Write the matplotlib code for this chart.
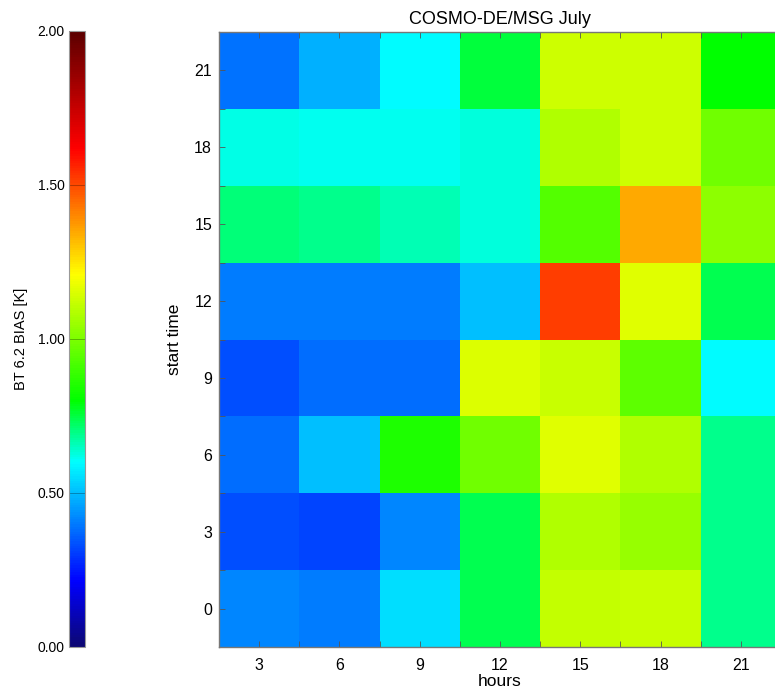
import numpy as np
import matplotlib
matplotlib.use("Agg")
import matplotlib.pyplot as plt
from matplotlib.colors import LinearSegmentedColormap, Normalize
from matplotlib.cm import ScalarMappable

# ---------------------------------------------------------------
# COSMO-DE/MSG July — BT 6.2 bias by start time and forecast hour
# ---------------------------------------------------------------
plt.rcParams["font.family"] = ["Liberation Sans", "DejaVu Sans"]

hours = [3, 6, 9, 12, 15, 18, 21]
start_times = [0, 3, 6, 9, 12, 15, 18, 21]

# one row per start time (0 .. 21), one column per forecast hour
bias_00 = [0.42, 0.40, 0.55, 0.74, 1.11, 1.12, 0.69]
bias_03 = [0.33, 0.32, 0.42, 0.74, 1.08, 1.04, 0.69]
bias_06 = [0.38, 0.50, 0.85, 0.98, 1.16, 1.08, 0.69]
bias_09 = [0.33, 0.38, 0.38, 1.15, 1.12, 0.95, 0.60]
bias_12 = [0.40, 0.40, 0.40, 0.50, 1.52, 1.16, 0.74]
bias_15 = [0.71, 0.69, 0.66, 0.625, 0.93, 1.345, 1.03]
bias_18 = [0.62, 0.615, 0.61, 0.625, 1.08, 1.13, 0.98]
bias_21 = [0.39, 0.48, 0.60, 0.75, 1.13, 1.13, 0.80]

bias = np.array([bias_00, bias_03, bias_06, bias_09,
                 bias_12, bias_15, bias_18, bias_21])

cbar_ticks = [0.0, 0.5, 1.0, 1.5, 2.0]

# ---------------------------------------------------------------
# IDL-like rainbow: navy -> blue -> cyan -> green -> yellow -> red -> dark red
# ---------------------------------------------------------------
VMIN, VMAX = 0.0, 2.0
nodes = [
    (0.00 / 2, (0.05, 0.03, 0.45)),
    (0.21 / 2, (0.00, 0.00, 1.00)),
    (0.60 / 2, (0.00, 1.00, 1.00)),
    (0.80 / 2, (0.00, 1.00, 0.00)),
    (1.21 / 2, (1.00, 1.00, 0.00)),
    (1.62 / 2, (1.00, 0.00, 0.00)),
    (2.00 / 2, (0.36, 0.00, 0.00)),
]
cmap = LinearSegmentedColormap.from_list("idl_rainbow", nodes, N=256)
norm = Normalize(VMIN, VMAX)

W, H = 775, 694
fig = plt.figure(figsize=(W / 100, H / 100), dpi=100)
fig.patch.set_facecolor("white")

# ---------------------------------------------------------------
# Main heatmap (right edge runs slightly past the figure, as in the source)
# ---------------------------------------------------------------
ax = fig.add_axes([219 / W, 1 - 647 / H, 562 / W, 615 / H])
x_edges = np.arange(len(hours) + 1) * 3 + 1.5
y_edges = np.arange(len(start_times) + 1) * 3 - 1.5
ax.pcolormesh(x_edges, y_edges, bias, cmap=cmap, norm=norm, shading="flat")

ax.set_xticks(hours)
ax.set_yticks(start_times)
ax.set_xticks(x_edges, minor=True)
ax.set_yticks(y_edges, minor=True)
ax.tick_params(which="both", direction="in", color="#555555",
               top=True, right=True, labelsize=11.5, length=4, width=0.6)
ax.tick_params(axis="x", which="major", pad=8)
ax.tick_params(axis="y", which="major", pad=5)
for sp in ax.spines.values():
    sp.set_color("#777777")
    sp.set_linewidth(1.0)

ax.set_title("COSMO-DE/MSG July", fontsize=13, pad=6)
ax.set_xlabel("hours", fontsize=12.5, labelpad=1)
ax.set_ylabel("start time", fontsize=12.5, labelpad=9)

# ---------------------------------------------------------------
# Colour bar on the far left
# ---------------------------------------------------------------
cax = fig.add_axes([69 / W, 1 - 647 / H, 16 / W, 616 / H])
sm = ScalarMappable(norm=norm, cmap=cmap)
cb = fig.colorbar(sm, cax=cax, ticks=cbar_ticks)
cax.yaxis.set_ticks_position("left")
cax.set_yticklabels([f"{t:.2f}" for t in cbar_ticks])
cax.tick_params(direction="in", length=11.5, width=0.6, color="#00000055",
                labelsize=10, pad=3)
cb.outline.set_edgecolor("#999999")
cb.outline.set_linewidth(0.8)

fig.text(21 / W, 1 - 339 / H, "BT 6.2 BIAS [K]", rotation=90,
         ha="center", va="center", fontsize=10.5)

fig.savefig("out.png", dpi=100)
